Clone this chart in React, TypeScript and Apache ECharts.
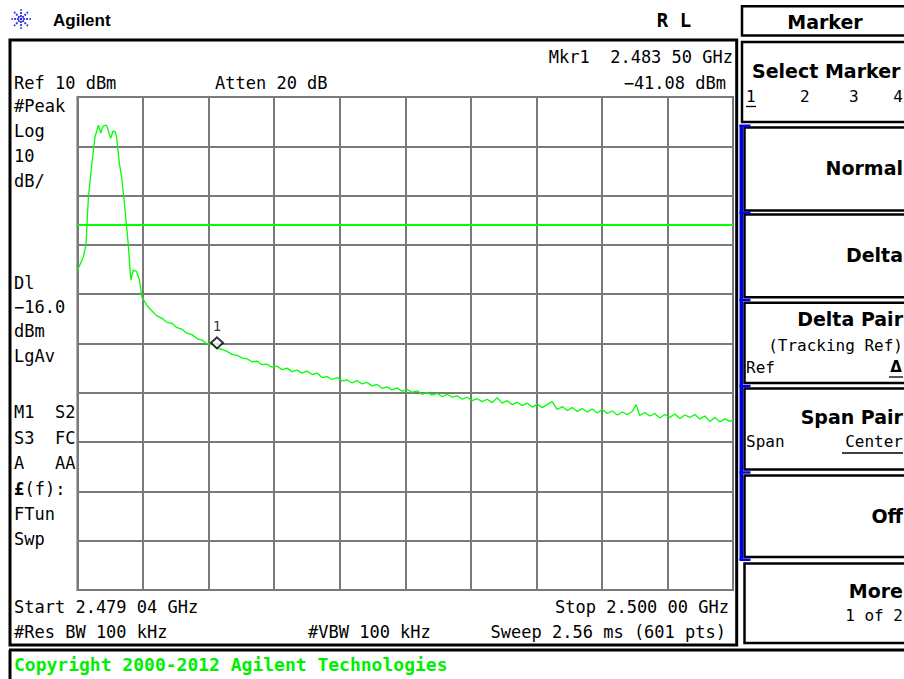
import React, { useEffect, useRef } from "react";
import * as echarts from "echarts";

// ---- data ----
const startMHz = 2479.04;
const stopMHz = 2500.0;
const refLevelDbm = 10;
const bottomLevelDbm = -90;
const dbPerDiv = 10;
const displayLineDbm = -16.0;
const markerFreqMHz = 2483.5;
const markerLevelDbm = -41.08;

const traceFreqMHz = [
  2479.04, 2479.12, 2479.23, 2479.31, 2479.39, 2479.49, 2479.6, 2479.71, 2479.78, 2479.86,
  2479.97, 2480.1, 2480.17, 2480.24, 2480.29, 2480.38, 2480.45, 2480.54, 2480.61, 2480.66,
  2480.72, 2480.75, 2480.82, 2480.93, 2481.02,
  2481.1, 2481.26, 2481.42, 2481.58, 2481.74, 2481.9, 2482.06, 2482.22, 2482.38, 2482.54,
  2482.7, 2482.86, 2483.02, 2483.18, 2483.34, 2483.5, 2483.66, 2483.82, 2483.98, 2484.14,
  2484.3, 2484.46, 2484.62, 2484.78, 2484.94, 2485.1, 2485.26, 2485.42, 2485.58, 2485.74,
  2485.9, 2486.06, 2486.22, 2486.38, 2486.54, 2486.7, 2486.86, 2487.02, 2487.18, 2487.34,
  2487.5, 2487.66, 2487.82, 2487.98, 2488.14, 2488.3, 2488.46, 2488.62, 2488.78, 2488.94,
  2489.1, 2489.26, 2489.42, 2489.58, 2489.74, 2489.9, 2490.06, 2490.22, 2490.38, 2490.54,
  2490.7, 2490.86, 2491.02, 2491.18, 2491.34, 2491.5, 2491.66, 2491.82, 2491.98, 2492.14,
  2492.3, 2492.46, 2492.62, 2492.78, 2492.94, 2493.1, 2493.26, 2493.42, 2493.58, 2493.74,
  2493.9, 2494.06, 2494.22, 2494.38, 2494.54, 2494.7, 2494.86, 2495.02, 2495.18, 2495.34,
  2495.5, 2495.66, 2495.82, 2495.98, 2496.14, 2496.3, 2496.46, 2496.62, 2496.78, 2496.9,
  2497.02, 2497.18, 2497.34, 2497.5, 2497.66, 2497.82, 2497.98, 2498.14, 2498.3, 2498.46,
  2498.62, 2498.78, 2498.94, 2499.1, 2499.26, 2499.42, 2499.58, 2499.74, 2499.9, 2500.0,
];

const traceLevelDbm = [
  -25.1, -24.0, -22.4, -20.0, -10.2, -4.1, 1.9, 4.3, 2.7, 4.1,
  4.3, 1.6, 3.0, 3.0, 1.9, -3.5, -6.2, -11.6, -16.3, -19.7,
  -25.1, -27.1, -25.1, -25.4, -27.1,
  -30.6, -32.3, -33.4, -34.4, -34.9, -35.7, -35.9, -36.8, -37.1, -37.9,
  -38.2, -39.0, -39.3, -40.1, -40.0, -41.0, -41.2, -41.6, -42.2, -42.4,
  -42.9, -43.1, -43.7, -43.6, -44.3, -44.2, -44.8, -44.6, -45.3, -45.0,
  -45.7, -45.4, -46.0, -45.6, -46.3, -46.0, -46.9, -46.7, -47.3, -46.9,
  -47.6, -47.4, -48.0, -47.5, -48.2, -47.9, -48.6, -48.3, -49.1, -48.8,
  -49.4, -49.0, -49.7, -49.3, -49.9, -49.6, -50.3, -49.9, -50.5, -50.1,
  -50.8, -50.3, -50.9, -50.6, -51.3, -50.9, -51.6, -51.2, -51.8, -51.3,
  -52.0, -51.0, -52.1, -51.6, -52.4, -51.9, -52.6, -52.1, -52.9, -52.3,
  -53.0, -52.4, -51.8, -53.4, -52.8, -53.6, -53.0, -53.8, -53.2, -53.9,
  -53.3, -54.1, -53.4, -54.2, -53.7, -54.5, -53.9, -54.4, -53.8, -52.4,
  -54.6, -54.0, -54.7, -54.2, -55.1, -54.4, -55.0, -54.3, -55.2, -54.5,
  -55.0, -54.4, -55.3, -54.7, -55.8, -55.0, -55.9, -55.3, -55.8, -55.5,
];

// ---- styles ----
const MONO = "'DejaVu Sans Mono', monospace";
const SANS = "'DejaVu Sans', sans-serif";
const GREEN = "#00ff00";
const GRID_GRAY = "#7a7a7a";

function txt(x: number, y: number, text: string, font: string, align = "left", fill = "#000") {
  return {
    type: "text",
    silent: true,
    z: 10,
    style: {
      x,
      y,
      text,
      font,
      fill,
      align,
      textAlign: align,
      verticalAlign: "middle",
      textVerticalAlign: "middle",
    },
  };
}

function rect(x: number, y: number, w: number, h: number, lw: number, stroke = "#000", fill = "none") {
  return {
    type: "rect",
    silent: true,
    z: 5,
    shape: { x, y, width: w, height: h },
    style: { fill, stroke, lineWidth: lw },
  };
}

function line(x1: number, y1: number, x2: number, y2: number, lw: number, stroke = "#000") {
  return {
    type: "line",
    silent: true,
    z: 6,
    shape: { x1, y1, x2, y2 },
    style: { stroke, lineWidth: lw },
  };
}

function logo(cx: number, cy: number) {
  const els: any[] = [];
  const dirs = 8;
  for (let i = 0; i < dirs; i++) {
    const a = (i * Math.PI * 2) / dirs;
    for (const r of [3, 6, 9]) {
      els.push({
        type: "circle",
        silent: true,
        z: 10,
        shape: { cx: cx + Math.cos(a) * r, cy: cy + Math.sin(a) * r, r: r === 9 ? 0.9 : 1.1 },
        style: { fill: "#2a2af0" },
      });
    }
  }
  els.push({ type: "circle", silent: true, z: 10, shape: { cx, cy, r: 1.3 }, style: { fill: "#2a2af0" } });
  return els;
}

export default function App() {
  const ref = useRef<HTMLDivElement>(null);

  useEffect(() => {
    if (!ref.current) return;
    const chart = echarts.init(ref.current, undefined, { renderer: "svg" });

    const trace = traceFreqMHz.map((f, i) => [f, traceLevelDbm[i]]);

    const F = `17px ${MONO}`;
    const FB = `bold 19px ${SANS}`;
    const FR = `16px ${MONO}`;
    const RX = 903;

    const graphics: any[] = [
      ...logo(21, 19),
      txt(53, 20, "Agilent", `bold 17px 'Liberation Sans', Arial, sans-serif`),
      txt(674, 20, "R L", `bold 19px ${MONO}`, "center"),
      // main frame
      rect(10, 40, 726.7, 605, 3),
      line(9, 650, 904, 650, 3),
      line(10, 650, 10, 679, 3),
      txt(14, 664, "Copyright 2000-2012 Agilent Technologies", `bold 18px ${MONO}`, "left", "#00ee00"),
      // annotations
      txt(733, 57, "Mkr1  2.483 50 GHz", F, "right"),
      txt(726, 83, "\u221241.08 dBm", F, "right"),
      txt(14, 83, "Ref 10 dBm", F),
      txt(215, 83, "Atten 20 dB", F),
      txt(14, 106, "#Peak", F),
      txt(14, 131, "Log", F),
      txt(14, 156, "10", F),
      txt(14, 181, "dB/", F),
      txt(14, 283, "Dl", F),
      txt(14, 307, "\u221216.0", F),
      txt(14, 331, "dBm", F),
      txt(14, 356, "LgAv", F),
      txt(14, 412, "M1  S2", F),
      txt(14, 438, "S3  FC", F),
      txt(14, 463, "A   AA", F),
      txt(14, 489, "\u00a3", `bold 17px ${MONO}`),
      txt(24.5, 489, "(f):", F),
      txt(14, 514, "FTun", F),
      txt(14, 539, "Swp", F),
      txt(14, 607, "Start 2.479 04 GHz", F),
      txt(729, 607, "Stop 2.500 00 GHz", F, "right"),
      txt(14, 632, "#Res BW 100 kHz", F),
      txt(308, 632, "#VBW 100 kHz", F),
      txt(726, 632, "Sweep 2.56 ms (601 pts)", F, "right"),
      // right soft-key panel
      rect(742, 6.2, 175, 29.3, 2.5),
      txt(825, 22, "Marker", FB, "center"),
      rect(742, 42, 175, 80, 2.5),
      txt(752, 71, "Select Marker", FB),
      txt(746, 96, "1", FR),
      txt(800, 96, "2", FR),
      txt(849, 96, "3", FR),
      txt(RX, 96, "4", FR, "right"),
      line(746, 106.5, 756, 106.5, 1.3),
      rect(744.5, 127.5, 175, 83, 2.5),
      txt(RX, 168, "Normal", FB, "right"),
      rect(744.5, 214.5, 175, 82.8, 2.5),
      txt(RX, 255, "Delta", FB, "right"),
      rect(744.5, 302.8, 175, 80.2, 2.5),
      txt(RX, 319, "Delta Pair", FB, "right"),
      txt(RX, 345, "(Tracking Ref)", FR, "right"),
      txt(746, 367, "Ref", FR),
      txt(896, 367, "\u0394", `bold 15px ${SANS}`, "center"),
      line(889, 377, 903, 377, 1.3),
      rect(744.5, 388.5, 175, 81, 2.5),
      txt(RX, 417, "Span Pair", FB, "right"),
      txt(746, 441, "Span", FR),
      txt(RX, 441, "Center", FR, "right"),
      line(842, 453, 903, 453, 1.3),
      rect(744.5, 475.5, 175, 81.5, 2.5),
      txt(RX, 516, "Off", FB, "right"),
      rect(744.5, 563.5, 175, 79.5, 2.5),
      txt(RX, 591, "More", FB, "right"),
      txt(RX, 615, "1 of 2", FR, "right"),
      // blue active bar
      rect(739.5, 125, 3.5, 435, 0, "none", "#0000ee"),
      rect(739.5, 124.5, 11, 2.5, 0, "none", "#0000ee"),
      rect(739.5, 211.5, 11, 2.5, 0, "none", "#0000ee"),
      rect(739.5, 298.8, 11, 2.5, 0, "none", "#0000ee"),
      rect(739.5, 384.8, 11, 2.5, 0, "none", "#0000ee"),
      rect(739.5, 471.2, 11, 2.5, 0, "none", "#0000ee"),
      rect(739.5, 558.5, 11, 2.5, 0, "none", "#0000ee"),
    ];

    chart.setOption({
      animation: false,
      backgroundColor: "#ffffff",
      grid: {
        left: 77.5,
        top: 97,
        width: 655.5,
        height: 493,
        show: true,
        borderColor: "#6a6a6a",
        borderWidth: 2,
        backgroundColor: "transparent",
      },
      xAxis: [
        {
          type: "value",
          min: startMHz,
          max: stopMHz,
          axisLine: { show: false },
          axisTick: { show: false },
          axisLabel: { show: false },
          splitLine: { show: false },
        },
        {
          type: "value",
          min: 0,
          max: 10,
          interval: 1,
          position: "top",
          axisLine: { show: false },
          axisTick: { show: false },
          axisLabel: { show: false },
          splitLine: { show: true, lineStyle: { color: GRID_GRAY, width: 2 } },
        },
      ],
      yAxis: {
        type: "value",
        min: bottomLevelDbm,
        max: refLevelDbm,
        interval: dbPerDiv,
        axisLine: { show: false },
        axisTick: { show: false },
        axisLabel: { show: false },
        splitLine: { show: true, lineStyle: { color: GRID_GRAY, width: 2 } },
      },
      series: [
        {
          type: "line",
          xAxisIndex: 0,
          data: trace,
          showSymbol: false,
          symbol: "none",
          silent: true,
          z: 3,
          lineStyle: { color: GREEN, width: 1.3 },
          markLine: {
            silent: true,
            symbol: ["none", "none"],
            label: { show: false },
            lineStyle: { color: GREEN, width: 2, type: "solid" },
            data: [{ yAxis: displayLineDbm }],
          },
        },
        {
          type: "scatter",
          xAxisIndex: 0,
          data: [[markerFreqMHz, markerLevelDbm]],
          symbol: "path://M0,-1L1,0L0,1L-1,0Z",
          symbolSize: [12, 11],
          symbolOffset: [0, -6],
          silent: true,
          z: 4,
          itemStyle: { color: "#ffffff", borderColor: "#000000", borderWidth: 2 },
          label: {
            show: true,
            formatter: "1",
            position: "top",
            distance: 3,
            color: "#000",
            fontFamily: MONO,
            fontSize: 14,
          },
        },
      ],
      graphic: graphics,
    });

    return () => chart.dispose();
  }, []);

  return (
    <div
      ref={ref}
      style={{ position: "absolute", left: 0, top: 0, width: 904, height: 679, background: "#fff", overflow: "hidden" }}
    />
  );
}
